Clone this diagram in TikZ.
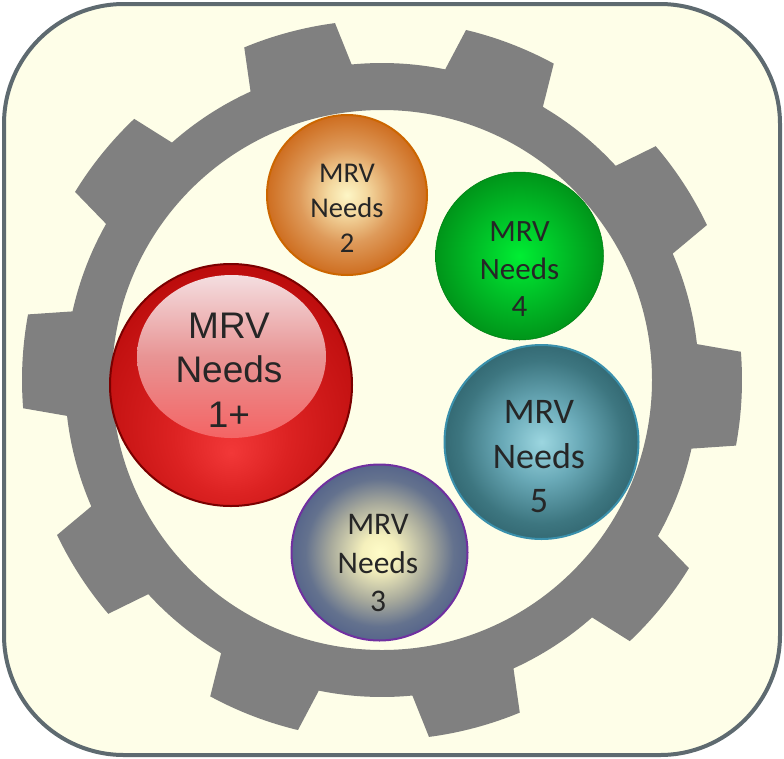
\documentclass[tikz,border=0pt]{standalone}
\usepackage{fontspec}
\setmainfont{Carlito}
\newfontfamily\arialf{Liberation Sans}
\definecolor{cream}{HTML}{FEFEE8}
\definecolor{framec}{HTML}{5E6A70}
\definecolor{gearc}{HTML}{808080}
\definecolor{txt}{HTML}{262626}
% red
\definecolor{rA}{HTML}{F23838}
\definecolor{rB}{HTML}{DC2222}
\definecolor{rC}{HTML}{C41212}
\definecolor{rD}{HTML}{B40606}
\definecolor{rBorder}{HTML}{7A0000}
\definecolor{hTop}{HTML}{F4DEE0}
\definecolor{hMid}{HTML}{E89494}
\definecolor{hBot}{HTML}{F46464}
% orange
\definecolor{oA}{HTML}{FDF6C6}
\definecolor{oB}{HTML}{F4D9A0}
\definecolor{oC}{HTML}{DE9A5A}
\definecolor{oD}{HTML}{CB6515}
\definecolor{oBorder}{HTML}{CC6600}
% green
\definecolor{gA}{HTML}{00EE33}
\definecolor{gB}{HTML}{00C228}
\definecolor{gC}{HTML}{007D12}
% teal
\definecolor{tA}{HTML}{9CD6E0}
\definecolor{tB}{HTML}{6AAAB8}
\definecolor{tC}{HTML}{3D7680}
\definecolor{tD}{HTML}{2A5C66}
\definecolor{tBorder}{HTML}{3A90AC}
% purple
\definecolor{pA}{HTML}{FFFCC8}
\definecolor{pB}{HTML}{F5F0BC}
\definecolor{pC}{HTML}{A8AA9C}
\definecolor{pD}{HTML}{64728E}
\definecolor{pE}{HTML}{4A5A88}
\definecolor{pBorder}{HTML}{7030A0}
\pgfdeclareradialshading{redball}{\pgfpoint{0bp}{-14bp}}{color(0bp)=(rA); color(12bp)=(rB); color(26bp)=(rC); color(34bp)=(rD); color(50bp)=(rD)}
\pgfdeclareradialshading{orangeball}{\pgfpoint{0bp}{0bp}}{color(0bp)=(oA); color(6bp)=(oB); color(15bp)=(oC); color(27bp)=(oD); color(50bp)=(oD)}
\pgfdeclareradialshading{greenball}{\pgfpoint{0bp}{0bp}}{color(0bp)=(gA); color(12bp)=(gB); color(32bp)=(gC); color(50bp)=(gC)}
\pgfdeclareradialshading{tealball}{\pgfpoint{0bp}{0bp}}{color(0bp)=(tA); color(10bp)=(tB); color(21bp)=(tC); color(30bp)=(tD); color(50bp)=(tD)}
\pgfdeclareradialshading{purpleball}{\pgfpoint{0bp}{0bp}}{color(0bp)=(pA); color(5bp)=(pB); color(14bp)=(pC); color(21bp)=(pD); color(29bp)=(pE); color(50bp)=(pE)}
\begin{document}
\begin{tikzpicture}[x=1pt,y=-1pt,
  ball/.style={circle, inner sep=0pt, line width=2pt},
  label/.style={text=txt, align=center, inner sep=0pt}]
\useasboundingbox (0,0) rectangle (784,758);
% frame
\draw[line width=4pt, draw=framec, fill=cream, rounded corners=120pt] (4,4) rectangle (780,755);
% gear
\begin{scope}[shift={(382,380)}]
\fill[gearc, even odd rule] (-114.5:317)
  \foreach \c in {-105,-69,-33,3,39,75,111,147,183,219} {
    -- (\c-9.5:317) -- (\c-7.5:360)
    arc[start angle=\c-7.5, end angle=\c+7.5, radius=360]
    -- (\c+9.5:317)
    arc[start angle=\c+9.5, end angle=\c+26.5, radius=317]
  } -- cycle
  (0,0) circle[radius=270];
\end{scope}
% red ball
\node[ball, minimum size=242pt, shading=redball, draw=rBorder] (red) at (231,385) {};
\shade[top color=hTop, bottom color=hBot, middle color=hMid] (231.5,356.5) ellipse[x radius=94.5, y radius=81.5];
\node[label, font=\arialf\fontsize{37}{44.5}\selectfont] (redt) at (229,370) {MRV\\Needs\\1+};
% orange ball
\node[ball, minimum size=160pt, shading=orangeball, draw=oBorder] (orange) at (347,195) {};
\node[label, font=\fontsize{28.6}{35}\selectfont] (oranget) at (347,208) {MRV\\Needs\\2};
% green ball
\node[ball, minimum size=168pt, shading=greenball, draw=gC, line width=0.5pt] (green) at (519.5,256) {};
\node[label, font=\fontsize{31}{37.5}\selectfont] (greent) at (519.5,269.5) {MRV\\Needs\\4};
% teal ball
\node[ball, minimum size=194pt, shading=tealball, draw=tBorder] (teal) at (541.5,442) {};
\node[label, font=\fontsize{36}{44.5}\selectfont] (tealt) at (539,457) {MRV\\Needs\\5};
% purple ball
\node[ball, minimum size=176pt, shading=purpleball, draw=pBorder] (purple) at (379.5,552.5) {};
\node[label, font=\fontsize{31.5}{38.5}\selectfont] (purplet) at (378,563) {MRV\\Needs\\3};
\end{tikzpicture}
\end{document}
